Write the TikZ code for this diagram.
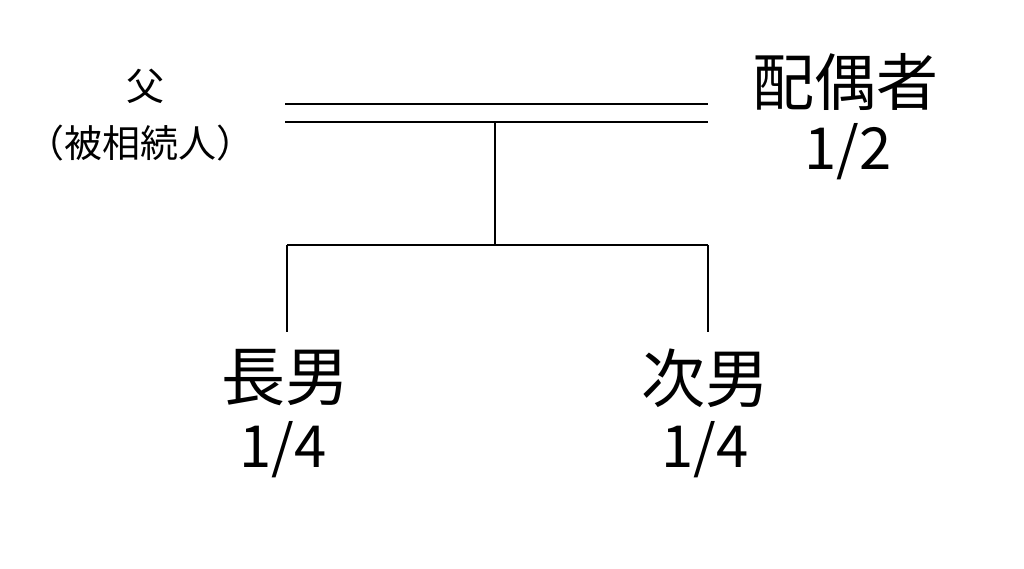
\documentclass[tikz,border=0pt]{standalone}
\usepackage{fontspec}
\setmainfont{Noto Sans CJK JP}
\begin{document}
\begin{tikzpicture}[x=1pt,y=-1pt,
  ln/.style={line width=1.6pt},
  lbl/.style={inner sep=0pt,anchor=center}]
\useasboundingbox (0,0) rectangle (1024,569);
\coordinate (dl1) at (285,104); \coordinate (dr1) at (708,104);
\coordinate (dl2) at (285,122); \coordinate (dr2) at (708,122);
\coordinate (top) at (495,122); \coordinate (mid) at (495,245);
\coordinate (hl) at (287,245); \coordinate (hr) at (708,245);
\coordinate (bl) at (287,332); \coordinate (br) at (708,332);
\draw[ln] (dl1) -- (dr1);
\draw[ln] (dl2) -- (dr2);
\draw[line width=2.6pt] (top) -- (mid);
\draw[ln] (hl) -- (hr);
\draw[ln] (hl) -- (bl);
\draw[ln] (hr) -- (br);
\node[lbl,font=\fontsize{38}{40}\selectfont] (f) at (145,86) {父};
\node[lbl,font=\fontsize{38}{40}\selectfont] (fs) at (140,143) {（被相続人）};
\node[lbl,font=\fontsize{62}{64}\selectfont] (sp) at (845,82) {配偶者};
\node[lbl,font=\fontsize{58}{60}\selectfont] (sps) at (848,152) {1/2};
\node[lbl,font=\fontsize{64}{66}\selectfont] (c1) at (285,378) {長男};
\node[lbl,font=\fontsize{58}{60}\selectfont] (c1s) at (283,450) {1/4};
\node[lbl,font=\fontsize{64}{66}\selectfont] (c2) at (705,378) {次男};
\node[lbl,font=\fontsize{58}{60}\selectfont] (c2s) at (705,450) {1/4};
\end{tikzpicture}
\end{document}
